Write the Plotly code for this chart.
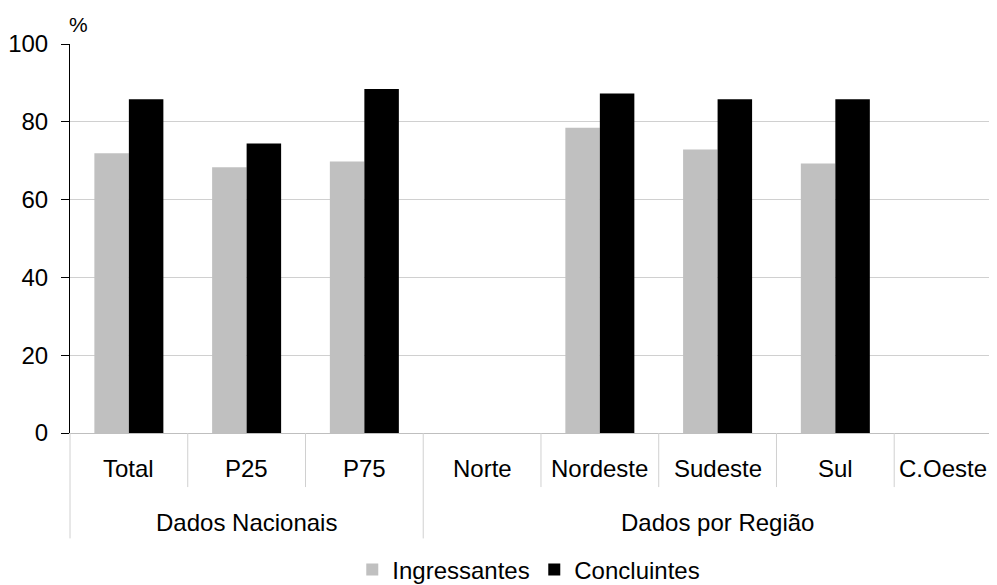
import plotly.graph_objects as go

categories = ["Total", "P25", "P75", "Norte", "Nordeste", "Sudeste", "Sul", "C.Oeste"]
groups = ["Dados Nacionais", "Dados por Região"]
group_sizes = [3, 5]
ingressantes = [71.9, 68.3, 69.8, None, 78.5, 72.9, 69.3, None]
concluintes = [85.8, 74.4, 88.4, None, 87.3, 85.8, 85.8, None]
y_ticks = [0, 20, 40, 60, 80, 100]

FONT = "Liberation Sans, Arial, sans-serif"
FS = 24
GRID = "#d0d0d0"

fig = go.Figure()
fig.add_trace(go.Bar(name="Ingressantes", x=categories, y=ingressantes,
                     marker=dict(color="#c0c0c0", line=dict(width=0))))
fig.add_trace(go.Bar(name="Concluintes", x=categories, y=concluintes,
                     marker=dict(color="#000000", line=dict(width=0))))

shapes = []
starts = []
s = 0
for n in group_sizes:
    starts.append(s)
    s += n
group_bounds = set(st - 0.5 for st in starts) | {s - 0.5}
# short dividers between categories
for i in range(1, len(categories)):
    b = i - 0.5
    if b in group_bounds:
        continue
    shapes.append(dict(type="line", xref="x", yref="paper", x0=b, x1=b, y0=0, y1=-0.139,
                       line=dict(color=GRID, width=1)))
# long dividers between groups
for b in sorted(group_bounds):
    if b == -0.5:
        shapes.append(dict(type="line", xref="paper", yref="paper", x0=0, x1=0, y0=0, y1=-0.271,
                           line=dict(color=GRID, width=1)))
    else:
        shapes.append(dict(type="line", xref="x", yref="paper", x0=b, x1=b, y0=0, y1=-0.271,
                           line=dict(color=GRID, width=1)))

annotations = []
# category labels
for i, c in enumerate(categories):
    last = i == len(categories) - 1
    annotations.append(dict(text=c, xref="x", yref="paper", x=i, y=-0.0925,
                            xanchor="center", yanchor="middle", showarrow=False,
                            xshift=-10 if last else 0,
                            font=dict(family=FONT, size=FS, color="black")))
# group labels
for g, st, n in zip(groups, starts, group_sizes):
    annotations.append(dict(text=g, xref="x", yref="paper", x=st + (n - 1) / 2, y=-0.2288,
                            yanchor="middle", xanchor="center", showarrow=False,
                            font=dict(family=FONT, size=FS, color="black")))
annotations.append(dict(text="%", xref="paper", yref="paper", x=0, xshift=-3, y=1.05,
                        xanchor="left", yanchor="middle", showarrow=False,
                        font=dict(family=FONT, size=21, color="black")))

# the page body adds an 8px margin, so the figure is sized to end at the window edge
fig.update_layout(
    width=989, height=577,
    margin=dict(l=62, r=0, t=36, b=152, autoexpand=False),
    paper_bgcolor="white", plot_bgcolor="white",
    barmode="group", bargap=0.414, bargroupgap=0,
    font=dict(family=FONT, size=FS, color="black"),
    shapes=shapes, annotations=annotations,
    legend=dict(orientation="h", xref="paper", x=0.3045, xanchor="left",
                yref="container", y=0.026, yanchor="middle",
                font=dict(family=FONT, size=FS, color="black"), itemwidth=30,
                entrywidth=137, bgcolor="rgba(0,0,0,0)"),
    showlegend=True,
)
fig.update_xaxes(type="category", categoryorder="array", categoryarray=categories,
                 range=[-0.5, 7.373], showgrid=False, zeroline=False,
                 showline=True, linecolor="#bfbfbf", linewidth=1,
                 ticks="", showticklabels=False, automargin=False)
fig.update_yaxes(range=[0, 100], tickvals=y_ticks, showgrid=True, gridcolor=GRID, gridwidth=1,
                 zeroline=False, showline=True, linecolor="black", linewidth=1,
                 ticks="outside", ticklen=8, tickcolor="black", ticklabelstandoff=8,
                 automargin=False,
                 tickfont=dict(family=FONT, size=FS, color="black"))

fig.write_html("out.html")
